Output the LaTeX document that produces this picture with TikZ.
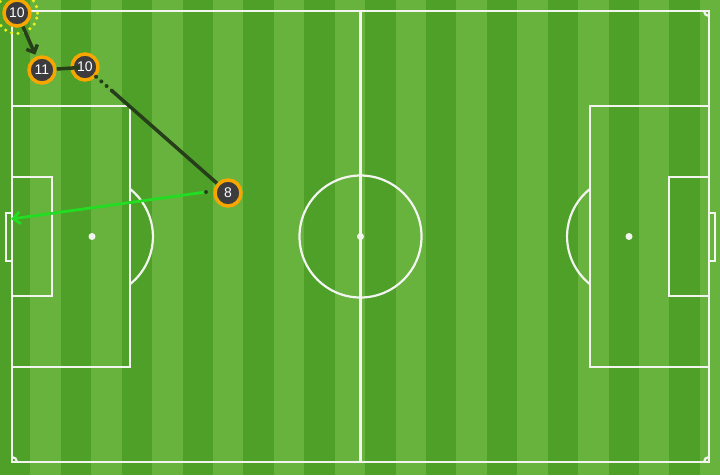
\documentclass[tikz,border=0pt]{standalone}
\usepackage{fontspec}
\setsansfont{Liberation Sans}
\usepackage{tikz}
\usetikzlibrary{arrows.meta, calc}

\definecolor{turfdark}{RGB}{78,160,40}
\definecolor{turflight}{RGB}{104,178,62}
\definecolor{chalk}{RGB}{242,244,240}
\definecolor{shirt}{RGB}{60,60,62}
\definecolor{rim}{RGB}{247,166,0}
\definecolor{passdark}{RGB}{38,62,26}
\definecolor{shotgreen}{RGB}{34,221,34}
\definecolor{halo}{RGB}{238,238,30}

\tikzset{
    player/.style={circle, draw=rim, line width=3.5pt, fill=shirt, text=white,
        minimum size=26pt, inner sep=0pt, font=\sffamily\fontsize{14}{14}\selectfont},
    pitchline/.style={draw=chalk, line width=2.2pt},
    passline/.style={draw=passdark, line width=3.5pt},
    carryline/.style={passline, line width=4pt, dash pattern=on 0pt off 7pt, line cap=round},
    shotline/.style={draw=shotgreen, line width=2.8pt},
}

\begin{document}
\begin{tikzpicture}[x=1pt, y=-1pt]
            \useasboundingbox (0,0) rectangle (720,475);
            \pgfmathsetmacro{\sw}{30.43} % stripe width

            % turf stripes
            \fill[turflight] (0,0) rectangle (720,475);
            \foreach \i in {0,2,...,22}
                \fill[turfdark] (\i*\sw,0) rectangle ++(\sw,475);

            % pitch markings
            \draw[pitchline] (12,11) rectangle (709,462);
            \draw[pitchline] (360.5,11) -- (360.5,462); % halfway line
            \draw[pitchline] (360.5,236.5) circle[radius=61pt];
            \fill[chalk] (360.5,236.5) circle[radius=3.5pt];

            % left end
            \draw[pitchline] (12,106) rectangle (130,367);  % penalty box
            \draw[pitchline] (12,177) rectangle (52,296);   % goal area
            \draw[pitchline] (12,213) -- (6,213) -- (6,261) -- (12,261); % goal
            \fill[chalk] (92,236.5) circle[radius=3.5pt];
            \draw[pitchline] (130,284.2) arc[start angle=-51.4, end angle=51.4, radius=61pt];

            % right end
            \draw[pitchline] (590,106) rectangle (709,367);
            \draw[pitchline] (669,177) rectangle (709,296);
            \draw[pitchline] (709,213) -- (715,213) -- (715,261) -- (709,261);
            \fill[chalk] (629,236.5) circle[radius=3.5pt];
            \draw[pitchline] (590,284.2) arc[start angle=231.4, end angle=128.6, radius=61pt];

            % corner arcs
            \draw[pitchline] (17,11) arc[start angle=0, end angle=-90, radius=5pt];
            \draw[pitchline] (704,11) arc[start angle=180, end angle=270, radius=5pt];
            \draw[pitchline] (17,462) arc[start angle=0, end angle=90, radius=5pt];
            \draw[pitchline] (704,462) arc[start angle=180, end angle=90, radius=5pt];

            % players
            \node[player] (ten) at (17,13) {10};
            \node[player] (eleven) at (42,70) {11};
            \node[player] (tenb) at (85,67) {10};
            \node[player] (eight) at (228,193) {8};
            \draw[halo, line width=3.5pt, dash pattern=on 0pt off 6.5pt, line cap=round] (ten) circle[radius=20.5pt];

            % free ends
            \coordinate (recv) at (80,67.5);
            \coordinate (runstart) at ($(tenb)!0.19!(eight)$);
            \coordinate (shotstart) at (206,192);
            \coordinate (shotend) at (11,219);

            % arrows
            \draw[passline, -{Straight Barb[length=6pt, width=12pt]}, shorten >=2pt] (ten) -- (eleven);
            \draw[passline] (eleven) -- (recv);
            \draw[carryline] (tenb) -- (runstart);
            \draw[passline] (runstart) -- (eight);
            \draw[shotline, -{Straight Barb[length=7pt, width=12pt]}] (shotstart) -- (shotend);
            \fill[passdark] (shotstart) circle[radius=2pt];
\end{tikzpicture}
\end{document}
